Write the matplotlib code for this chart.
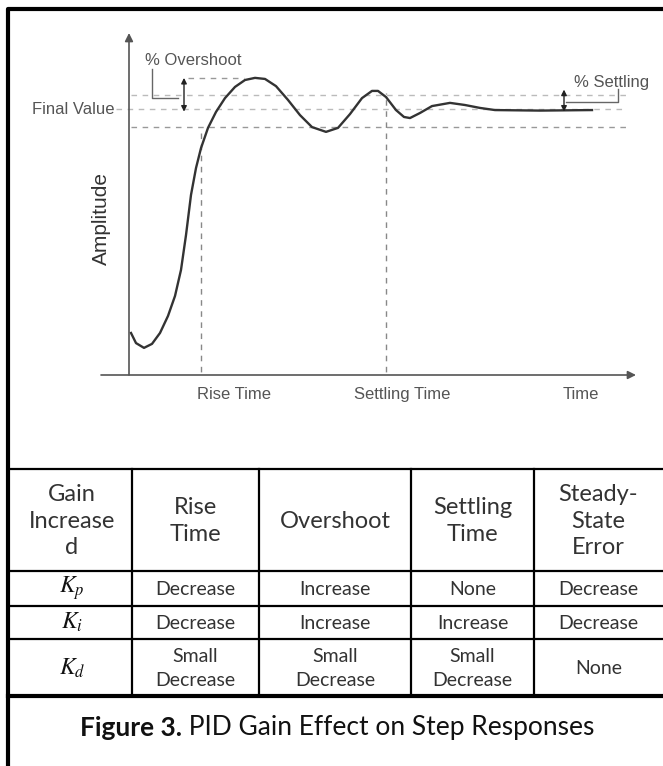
import numpy as np
import matplotlib
matplotlib.use("Agg")
import matplotlib.pyplot as plt

# step response (time units, amplitude / final value)
t = [0.04, 0.14, 0.30, 0.46, 0.62, 0.78, 0.92, 1.04, 1.14, 1.24, 1.34, 1.44,
     1.58, 1.74, 1.92, 2.12, 2.32, 2.52, 2.72, 2.94, 3.18, 3.42, 3.66, 3.94,
     4.18, 4.42, 4.66, 4.86, 4.98, 5.14, 5.34, 5.50, 5.62, 5.82, 6.06, 6.42,
     6.72, 7.02, 7.32, 8.22, 9.26]
amp = [0.158, 0.120, 0.102, 0.117, 0.158, 0.222, 0.297, 0.395, 0.526, 0.677,
       0.778, 0.853, 0.929, 0.989, 1.041, 1.083, 1.109, 1.117, 1.113, 1.086,
       1.034, 0.977, 0.932, 0.914, 0.929, 0.981, 1.041, 1.068, 1.068, 1.045,
       0.996, 0.970, 0.966, 0.985, 1.011, 1.023, 1.015, 1.004, 0.996, 0.994,
       0.996]
final_value = 1.0
band_hi, band_lo = 1.053, 0.934
overshoot = 1.117
rise_time = 1.44
settling_time = 5.14

col_labels = ["Gain\nIncrease\nd", "Rise\nTime", "Overshoot", "Settling\nTime",
              "Steady-\nState\nError"]
row_labels = [r"$K_p$", r"$K_i$", r"$K_d$"]
cells = [["Decrease", "Increase", "None", "Decrease"],
         ["Decrease", "Increase", "Increase", "Decrease"],
         ["Small\nDecrease", "Small\nDecrease", "Small\nDecrease", "None"]]
caption_bold = "Figure 3."
caption_rest = " PID Gain Effect on Step Responses"

W, H = 663, 766
fig = plt.figure(figsize=(W / 100, H / 100), dpi=100)
plt.rcParams['mathtext.fontset'] = 'stix'

# layout layer in pixel units
bg = fig.add_axes([0, 0, 1, 1])
bg.set_xlim(0, W)
bg.set_ylim(H, 0)
bg.axis("off")
bg.plot([8, 8, W], [H, 9, 9], color="k", lw=3.0, solid_capstyle="projecting")

col_x = [8, 132, 259, 411, 534, W]
row_y = [469, 571, 606, 639, 696]
for y in row_y[:-1]:
    bg.plot([8, W], [y, y], color="k", lw=1.6)
bg.plot([8, W], [row_y[-1], row_y[-1]], color="k", lw=3.0)
for x in col_x[1:-1]:
    bg.plot([x, x], [row_y[0], row_y[-1]], color="k", lw=1.6)

tfont = dict(family="Lato", weight="normal", color="#333")
for j, lab in enumerate(col_labels):
    cx = (col_x[j] + col_x[j + 1]) / 2 + (2 if j == 0 else 0)
    bg.text(cx, (row_y[0] + row_y[1]) / 2 + 1, lab, ha="center", va="center",
            fontsize=17, linespacing=1.35, **tfont)
for i, rl in enumerate(row_labels):
    cy = (row_y[i + 1] + row_y[i + 2]) / 2
    bg.text((col_x[0] + col_x[1]) / 2 + 2, cy, rl, ha="center", va="center",
            fontsize=17, color="#111")
    for j, val in enumerate(cells[i]):
        cx = (col_x[j + 1] + col_x[j + 2]) / 2
        bg.text(cx, cy + 1, val, ha="center", va="center", fontsize=14,
                linespacing=1.45, **tfont)

# caption: bold part followed by regular part, centred as one line
fig.canvas.draw()
r = fig.canvas.get_renderer()
cb = bg.text(0, 728, caption_bold, fontsize=19, family="Lato", weight="bold",
             va="center", color="#111")
cr = bg.text(0, 728, caption_rest, fontsize=19, family="Lato",
             va="center", color="#111")
wb = cb.get_window_extent(r).width
wr = cr.get_window_extent(r).width
x0 = 337 - (wb + wr) / 2
cb.set_x(x0)
cr.set_x(x0 + wb)

# step response plot, axis origin at (129, 375) px, 50 px per time unit
ax = fig.add_axes([101 / W, 1 - 375 / H, (640 - 101) / W, (375 - 30) / H])
ax.set_xlim(-0.56, (640 - 129) / 50)
ax.set_ylim(0, (375 - 30) / 266)
ax.axis("off")

dash = dict(ls=(0, (4, 4)), lw=1.0)
ax.plot([0.04, 9.96], [band_hi] * 2, color="#bbb", **dash)
ax.plot([-0.26, 9.96], [final_value] * 2, color="#bbb", **dash)
ax.plot([0.04, 9.96], [band_lo] * 2, color="#999", **dash)
ax.plot([1.18, 2.3], [overshoot] * 2, color="#999", **dash)
ax.plot([rise_time] * 2, [-0.03, 0.91], color="#888", **dash)
ax.plot([settling_time] * 2, [-0.03, 1.06], color="#888", **dash)

ax.plot(t, amp, color="#333", lw=1.7)

ax.annotate("", xy=(10.14, 0), xytext=(-0.56, 0),
            arrowprops=dict(arrowstyle="-|>", color="#555", lw=1.2,
                            mutation_scale=12, shrinkA=0, shrinkB=0))
ax.annotate("", xy=(0, (375 - 33) / 266), xytext=(0, 0),
            arrowprops=dict(arrowstyle="-|>", color="#555", lw=1.2,
                            mutation_scale=12, shrinkA=0, shrinkB=0))

# overshoot and settling markers
ax.annotate("", xy=(1.10, overshoot), xytext=(1.10, final_value - 0.01),
            arrowprops=dict(arrowstyle="<|-|>", color="#222", lw=1.0,
                            mutation_scale=8, shrinkA=0, shrinkB=0))
ax.plot([0.46, 0.46, 0.98], [1.15, 1.043, 1.043], color="#666", lw=1.0)
ax.annotate("", xy=(8.70, band_hi + 0.02), xytext=(8.70, final_value - 0.01),
            arrowprops=dict(arrowstyle="<|-|>", color="#222", lw=1.0,
                            mutation_scale=8, shrinkA=0, shrinkB=0))
ax.plot([8.74, 9.78, 9.78], [1.026, 1.026, 1.075], color="#666", lw=1.0)

lab = dict(family="Liberation Sans", color="#555", fontsize=12, clip_on=False)
ax.text(0.32, 1.184, "% Overshoot", ha="left", va="center", **lab)
ax.text(9.66, 1.098, "% Settling", ha="center", va="center", **lab)
ax.text(-0.30, final_value, "Final Value", ha="right", va="center", **lab)
ax.text(-0.56, 0.59, "Amplitude", rotation=90, ha="center", va="center",
        family="Liberation Sans", color="#333", fontsize=15, clip_on=False)
ax.text(rise_time + 0.66, -0.075, "Rise Time", ha="center", va="center", **lab)
ax.text(settling_time + 0.32, -0.075, "Settling Time", ha="center", va="center",
        **lab)
ax.text(9.04, -0.075, "Time", ha="center", va="center", **lab)

fig.savefig("out.png", dpi=100)
